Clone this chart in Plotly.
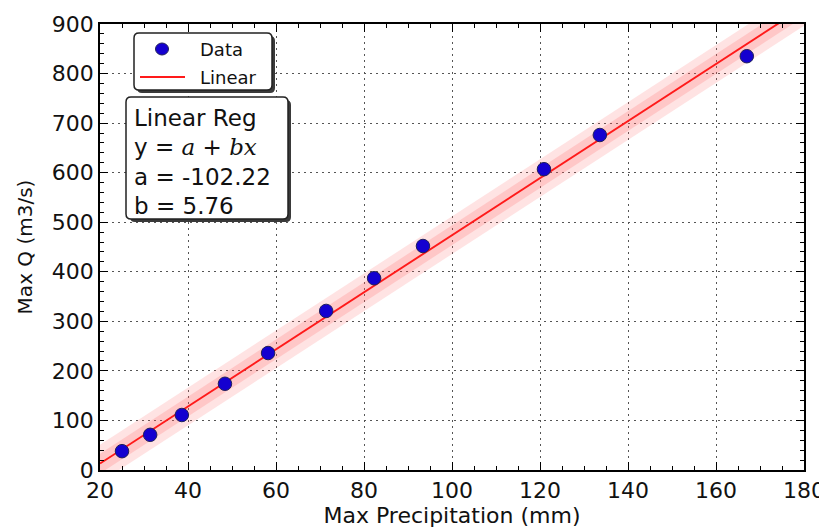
import plotly.graph_objects as go

# Data
precip_mm = [25.0, 31.4, 38.6, 48.4, 58.2, 71.4, 82.3, 93.4, 120.9, 133.6, 167.0]
max_q = [38, 71, 111, 174, 236, 321, 387, 452, 607, 676, 835]

coef_a = -102.22
coef_b = 5.76
fit_x = [20, 180]
band_outer = 38
band_inner = 20

x_ticks = [20, 40, 60, 80, 100, 120, 140, 160, 180]
y_ticks = [0, 100, 200, 300, 400, 500, 600, 700, 800, 900]

fit_y = [coef_a + coef_b * x for x in fit_x]

FONT = "DejaVu Sans"
TXT = "#111111"
MARK = "#1400d0"
LINE = "#ff1a1a"

# page offset (body margin) and plot area in window pixels
OFF = 8
W, H = 827 - OFF, 528 - OFF
L, R, T, B = 100, 804, 24, 470


def px(x):
    return (x - L) / (R - L)


def py(y):
    return (B - y) / (B - T)


def rounded_rect(x0, y0, x1, y1, r=5):
    rx = r / (R - L)
    ry = r / (B - T)
    X0, X1 = px(x0), px(x1)
    Y0, Y1 = py(y1), py(y0)
    return (f"M {X0+rx},{Y0} L {X1-rx},{Y0} Q {X1},{Y0} {X1},{Y0+ry} "
            f"L {X1},{Y1-ry} Q {X1},{Y1} {X1-rx},{Y1} L {X0+rx},{Y1} "
            f"Q {X0},{Y1} {X0},{Y1-ry} L {X0},{Y0+ry} Q {X0},{Y0} {X0+rx},{Y0} Z")


fig = go.Figure()

# confidence bands
for w, col in [(band_outer, "rgba(255,90,90,0.17)"), (band_inner, "rgba(255,90,90,0.20)")]:
    fig.add_trace(go.Scatter(x=fit_x, y=[v + w for v in fit_y], mode="lines",
                             line=dict(width=0), showlegend=False, hoverinfo="skip"))
    fig.add_trace(go.Scatter(x=fit_x, y=[v - w for v in fit_y], mode="lines",
                             line=dict(width=0), fill="tonexty", fillcolor=col,
                             showlegend=False, hoverinfo="skip"))

fig.add_trace(go.Scatter(x=fit_x, y=fit_y, mode="lines", name="Linear",
                         line=dict(color=LINE, width=1.9), showlegend=False))
fig.add_trace(go.Scatter(x=precip_mm, y=max_q, mode="markers", name="Data",
                         marker=dict(color=MARK, size=13.5,
                                     line=dict(color="#20205a", width=1)),
                         showlegend=False))

axis_common = dict(
    showline=True, linecolor="black", linewidth=1.5, mirror="ticks",
    ticks="inside", ticklen=8, tickwidth=1.3, tickcolor="black",
    showgrid=True, gridcolor="#555555", griddash="2px,4px", gridwidth=1.2,
    zeroline=False, automargin=False,
    tickfont=dict(family=FONT, size=22, color=TXT),
)

fig.update_xaxes(range=[20, 180], tickvals=x_ticks,
                 minor=dict(ticks="inside", ticklen=4, dtick=5, tick0=20, tickcolor="black", showgrid=False),
                 title=dict(text="Max Precipitation (mm)", font=dict(family=FONT, size=22, color=TXT), standoff=0),
                 **axis_common)
fig.update_yaxes(range=[0, 900], tickvals=y_ticks,
                 minor=dict(ticks="inside", ticklen=4, dtick=20, tickcolor="black", showgrid=False),
                 title=dict(text="Max Q (m3/s)", font=dict(family=FONT, size=20, color=TXT), standoff=14),
                 **axis_common)

# ---- legend (drawn manually) ----
fig.add_shape(type="path", xref="paper", yref="paper", path=rounded_rect(137, 36, 275, 93),
              fillcolor="#3a3a3a", line=dict(width=0), layer="above")
fig.add_shape(type="path", xref="paper", yref="paper", path=rounded_rect(134, 33, 272, 90),
              fillcolor="white", line=dict(color="#222222", width=1.5), layer="above")
fig.add_shape(type="circle", xref="paper", yref="paper",
              x0=px(155.5), x1=px(168.5), y0=py(55), y1=py(43),
              fillcolor=MARK, line=dict(color="#20205a", width=1), layer="above")
fig.add_shape(type="line", xref="paper", yref="paper",
              x0=px(140), x1=px(185), y0=py(77), y1=py(77),
              line=dict(color=LINE, width=1.8), layer="above")
fig.add_annotation(xref="paper", yref="paper", x=px(198), y=py(49), xanchor="left", yanchor="middle",
                   text="Data", showarrow=False, font=dict(family=FONT, size=18, color=TXT))
fig.add_annotation(xref="paper", yref="paper", x=px(198), y=py(77), xanchor="left", yanchor="middle",
                   text="Linear", showarrow=False, font=dict(family=FONT, size=18, color=TXT))

# ---- regression text box ----
fig.add_shape(type="path", xref="paper", yref="paper", path=rounded_rect(130, 100, 291, 222),
              fillcolor="#3a3a3a", line=dict(width=0), layer="above")
fig.add_shape(type="path", xref="paper", yref="paper", path=rounded_rect(126, 97, 288, 219),
              fillcolor="white", line=dict(color="#222222", width=1.5), layer="above")
box_lines = [
    "Linear Reg",
    "y = <span style='font-family:DejaVu Serif;font-style:italic'>a</span>"
    " + <span style='font-family:DejaVu Serif;font-style:italic'>bx</span>",
    f"a = {coef_a:.2f}",
    f"b = {coef_b:.2f}",
]
for i, t in enumerate(box_lines):
    fig.add_annotation(xref="paper", yref="paper", x=px(132), y=py(118 + 29.3 * i),
                       xanchor="left", yanchor="middle", showarrow=False, align="left",
                       text=t, font=dict(family=FONT, size=23, color=TXT))

fig.update_layout(
    width=W, height=H,
    margin=dict(l=L - OFF, r=827 - R, t=T - OFF, b=528 - B),
    plot_bgcolor="white", paper_bgcolor="white",
    showlegend=False,
)

fig.write_html("out.html")
